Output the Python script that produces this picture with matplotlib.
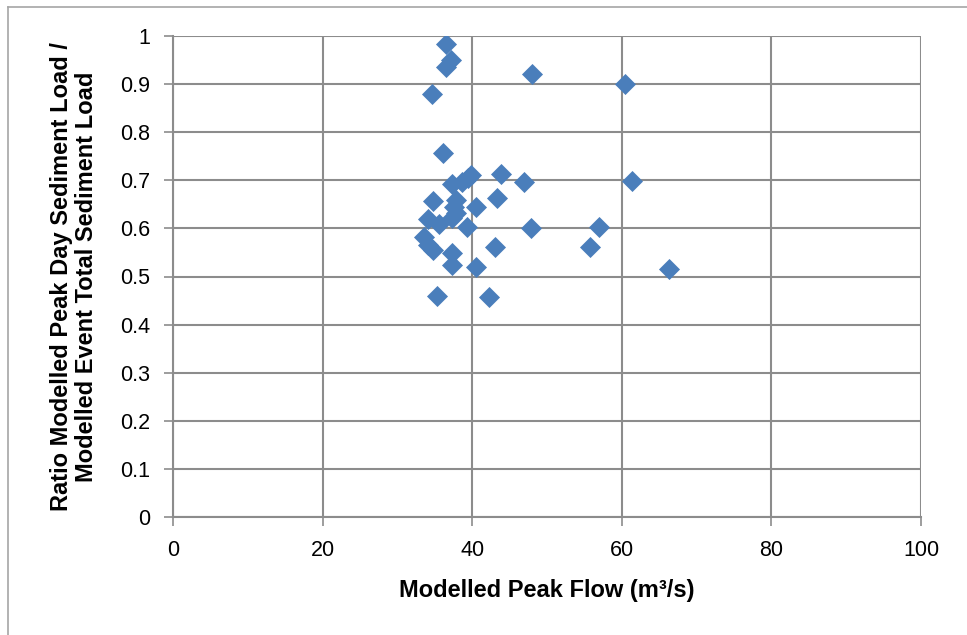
import matplotlib.pyplot as plt
from matplotlib.lines import Line2D

# modelled peak flow (m3/s) and ratio peak day / event sediment load
peak_flow = [36.5, 37.2, 36.5, 34.6, 48.0, 60.4,
             36.1, 61.4, 39.5, 38.6, 39.8, 43.9, 46.9, 37.3,
             34.7, 43.3, 37.9, 37.5, 40.5,
             34.1, 35.6, 37.3, 37.8, 39.3, 47.9, 57.0,
             33.6, 34.1, 34.8, 37.3, 37.3, 43.0, 55.7, 40.5, 66.3,
             35.3, 42.3]
ratio = [0.983, 0.951, 0.936, 0.879, 0.921, 0.900,
         0.757, 0.699, 0.705, 0.697, 0.711, 0.713, 0.697, 0.692,
         0.658, 0.664, 0.659, 0.645, 0.645,
         0.619, 0.610, 0.621, 0.632, 0.602, 0.601, 0.602,
         0.583, 0.565, 0.555, 0.548, 0.524, 0.562, 0.562, 0.520, 0.515,
         0.460, 0.457]

x_ticks = [0, 20, 40, 60, 80, 100]
y_ticks = [0, 0.1, 0.2, 0.3, 0.4, 0.5, 0.6, 0.7, 0.8, 0.9, 1]
y_labels = ["0", "0.1", "0.2", "0.3", "0.4", "0.5", "0.6", "0.7", "0.8", "0.9", "1"]

plt.rcParams["font.family"] = ["Liberation Sans", "DejaVu Sans"]

W, H = 967, 635
fig = plt.figure(figsize=(W / 100, H / 100), dpi=100)
ax = fig.add_axes([173 / W, 1 - 517 / H, (921 - 173) / W, (517 - 36) / H])

ax.scatter(peak_flow, ratio, marker="D", s=115, color="#4a7ebb", zorder=3,
           linewidths=0)

ax.set_xlim(0, 100)
ax.set_ylim(0, 1)
ax.set_xticks(x_ticks)
ax.set_yticks(y_ticks)
ax.set_yticklabels(y_labels)
ax.grid(True, color="#8c8c8c", lw=1.5, zorder=0)
ax.set_axisbelow(True)
for s in ["top", "right"]:
    ax.spines[s].set_visible(False)
for s in ["left", "bottom"]:
    ax.spines[s].set_color("#8c8c8c")
    ax.spines[s].set_linewidth(1.5)
ax.tick_params(direction="out", length=6.5, width=1.2, color="#8c8c8c",
               labelsize=15.5, pad=10)

ax.set_xlabel("Modelled Peak Flow (m³/s)", fontsize=17, fontweight="bold",
              labelpad=13)
ax.set_ylabel("Ratio Modelled Peak Day Sediment Load /\nModelled Event Total Sediment Load",
              fontsize=17, fontweight="bold", labelpad=16, linespacing=1.12)

# chart frame
fig.add_artist(Line2D([8 / W, 8 / W], [0, 1 - 7 / H], color="#a6a6a6", lw=1.2))
fig.add_artist(Line2D([8 / W, 1], [1 - 7 / H, 1 - 7 / H], color="#a6a6a6", lw=1.2))

fig.savefig("out.png", dpi=100)
